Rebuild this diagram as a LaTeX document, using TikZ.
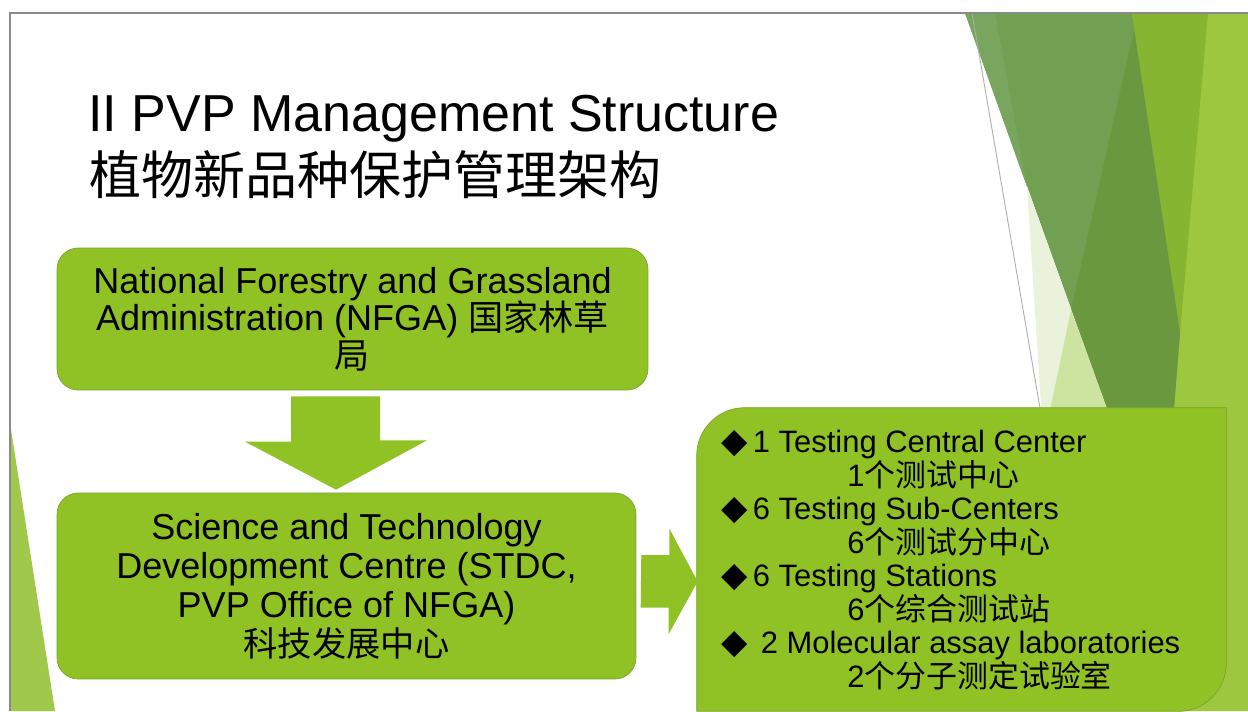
\documentclass[tikz,border=0pt]{standalone}
\usepackage{fontspec}
\setmainfont{Liberation Sans}
\newfontfamily\cjk{Noto Sans CJK SC}
\newfontfamily\symb{DejaVu Sans}
\usepackage{xcolor}
\usepackage{tikz}
\usetikzlibrary{positioning,calc}

\definecolor{leaf}{HTML}{90C226}
\definecolor{leafline}{HTML}{7BA428}
\definecolor{facetA}{HTML}{72A052}
\definecolor{facetD}{HTML}{6A983F}
\definecolor{facetB}{HTML}{86B532}
\definecolor{facetC}{HTML}{9CC73E}
\definecolor{facetE}{HTML}{78A65E}
\definecolor{paleA}{HTML}{EAF2DB}
\definecolor{paleB}{HTML}{CDE3A0}
\definecolor{cornerleaf}{HTML}{A0C84B}
\definecolor{slideframe}{HTML}{8A8A8A}

\newcommand{\bulletmark}{{\symb\fontsize{19.5}{19.06}\selectfont ◆}}

\begin{document}
\begin{tikzpicture}[x=0.02cm,y=-0.02cm,
    orgbox/.style={draw=leafline,fill=leaf,rounded corners=12pt,align=center,inner sep=0pt,
      font=\fontsize{20.5}{21.3}\selectfont},
    blockarrow/.style={fill=leaf}]
  \useasboundingbox (0,0) rectangle (1248,711);
  \fill[white] (0,0) rectangle (1248,711);

  % facets on the right
  \fill[facetC] (1132,13) -- (1248,13) -- (1248,711) -- (1160,711) -- (1173,408) -- cycle;
  \fill[facetB] (1132,13) -- (1208,13) -- (1180,333) -- cycle;
  \fill[facetA] (965,13) -- (1132,13) -- (1180,333) -- (1173,420) -- (1111,420) -- cycle;
  \fill[facetD] (1134,30) -- (1180,333) -- (1173,420) -- (1111,420) -- (1071,310) -- cycle;
  \fill[facetE] (965,13) -- (995,13) -- (1027,187) -- cycle;
  \fill[paleA] (1027,187) -- (1042,420) -- (1111,420) -- cycle;
  \fill[paleB] (1071,310) -- (1048,420) -- (1111,420) -- cycle;
  \draw[slideframe!70,line width=0.5pt] (972,13) -- (1040,408);
  % facet on the left
  \fill[cornerleaf] (10,423) -- (55,711) -- (10,711) -- cycle;
  \draw[slideframe,line width=1.1pt] (10,711) -- (10,13) -- (1248,13);

  % title
  \node[anchor=base west,inner sep=0pt,font=\fontsize{29.6}{36}\selectfont] (title) at (88,131) {II PVP Management Structure};
  \node[anchor=base west,inner sep=0pt,font=\fontsize{29.6}{36}\cjk] (subtitle) at (89,194) {植物新品种保护管理架构};

  % boxes
  \node[orgbox,minimum width=11.82cm,minimum height=2.84cm] (nfga) at (352.5,319)
    {National Forestry and Grassland\\Administration (NFGA) {\cjk\fontsize{20}{21.3}\selectfont 国家林草}\\{\cjk\fontsize{20}{21.3}\selectfont 局}};
  \node[orgbox,minimum width=11.58cm,minimum height=3.72cm,font=\fontsize{20.5}{22.2}\selectfont] (stdc) at (346.5,586)
    {Science and Technology\\Development Centre (STDC,\\PVP Office of NFGA)\\{\cjk\fontsize{19.5}{22.2}\selectfont 科技发展中心}};
  \node[minimum width=10.58cm,minimum height=6.06cm,inner sep=0pt] (labs) at (961.5,559.5) {};
  \filldraw[draw=leafline,fill=leaf] (labs.south west) -- ([yshift=-0.96cm]labs.north west)
    arc[start angle=180,end angle=270,radius=48] -- (labs.north east) -- ([yshift=0.96cm]labs.south east)
    arc[start angle=0,end angle=90,radius=48] -- cycle;
  \node[anchor=north west,align=left,inner sep=0pt,font=\fontsize{17.6}{19.06}\selectfont] (labtext) at (721,430)
    {\bulletmark\hspace{3pt}1 Testing Central Center\\
     \hspace*{71.7pt}1{\cjk 个测试中心}\\
     \bulletmark\hspace{3pt}6 Testing Sub-Centers\\
     \hspace*{71.7pt}6{\cjk 个测试分中心}\\
     \bulletmark\hspace{3pt}6 Testing Stations\\
     \hspace*{71.7pt}6{\cjk 个综合测试站}\\
     \bulletmark\hspace{7.5pt}2 Molecular assay laboratories\\
     \hspace*{71.7pt}2{\cjk 个分子测定试验室}};

  % block arrows
  \coordinate (dtip) at ($(stdc.north)+(-10.5,-3)$);
  \fill[blockarrow] ($(nfga.south)+(-61.5,6)$) -- ++(89,0) -- ++(0,44) -- ++(47,0) -- (dtip)
    -- ++(-91,-48) -- ++(46,0) -- cycle;
  \coordinate (rtip) at ($(labs.west)+(1,22)$);
  \fill[blockarrow] ($(stdc.east)+(5,-31)$) -- ++(28,0) -- ++(0,-26.5) -- (rtip)
    -- ++(-29,52.5) -- ++(0,-26.5) -- ++(-28,0) -- cycle;
\end{tikzpicture}
\end{document}
